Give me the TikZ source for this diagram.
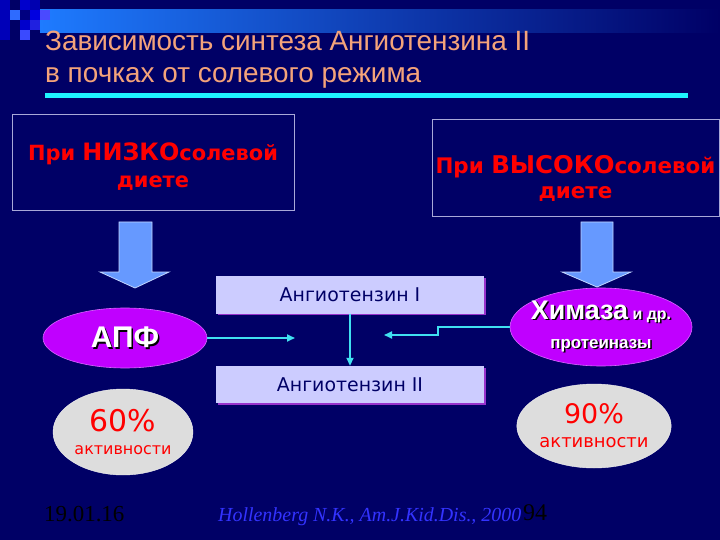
\documentclass[tikz,border=0pt]{standalone}
\usepackage{fontspec}
\setmainfont{Liberation Sans}
\newfontfamily\verdfont{DejaVu Sans}
\newfontfamily\romfont{Liberation Serif}
\usetikzlibrary{positioning, arrows.meta, shapes.geometric, shadows}
\definecolor{slidebg}{HTML}{000066}
\definecolor{bandblue}{HTML}{1E7BFF}
\definecolor{titlesalmon}{HTML}{F4A37A}
\definecolor{rulecyan}{HTML}{1EF4FF}
\definecolor{boxline}{HTML}{A8A8D8}
\definecolor{arrowblue}{HTML}{6699FF}
\definecolor{angfill}{HTML}{CCCCFF}
\definecolor{angshadow}{HTML}{9933CC}
\definecolor{enzviolet}{HTML}{C000FF}
\definecolor{actgray}{HTML}{DDDDDD}
\definecolor{linkcyan}{HTML}{40E0F0}
\definecolor{citeblue}{HTML}{3333FF}
\newcommand{\fsz}[2]{\fontsize{#1}{#2}\selectfont}
\newcommand{\shadowed}[1]{\rlap{\kern1.5bp\raisebox{-1.5bp}{\color{black}#1}}\textcolor{white}{#1}}

\begin{document}
\begin{tikzpicture}[x=1bp, y=-1bp,
  titleline/.style={anchor=base west, inner sep=0pt, text=titlesalmon, font=\fsz{28}{32}},
  dietbox/.style={rectangle, draw=boxline, line width=0.9bp, inner sep=0pt},
  diettext/.style={text=red, align=center, font=\verdfont\bfseries},
  bigarrow/.style={fill=arrowblue, draw=arrowblue!40!white, line width=0.8bp},
  angbox/.style={rectangle, fill=angfill, minimum width=268bp, minimum height=37bp,
    text=slidebg, font=\verdfont\fsz{19}{23},
    drop shadow={shadow xshift=1.5bp, shadow yshift=-1.5bp, fill=angshadow, opacity=1}},
  enzyme/.style={ellipse, fill=enzviolet, draw=enzviolet!60!white, line width=0.6bp,
    inner sep=0pt, align=center},
  activity/.style={ellipse, fill=actgray, draw=white!90!gray, inner sep=0pt,
    align=center, text=red},
  link/.style={draw=linkcyan, line width=1.8bp, -{Triangle[length=8bp, width=7bp]}},
  foot/.style={anchor=base west, inner sep=0pt},
]

% Background
\fill[slidebg] (0,0) rectangle (720,540);
\useasboundingbox (0,0) rectangle (720,540);
\shade[left color=bandblue, right color=slidebg] (40,10) rectangle (720,33);
\foreach \sx/\sy/\sc in {0/0/0000B8, 0/10/0000B8, 0/20/0000B8, 0/30/0000B8,
    10/10/2E6BFF, 20/0/0000CC, 20/10/000080, 30/0/0000B0, 30/10/0000E0,
    40/10/4A4AFF, 20/20/0000CC, 30/20/2020E0, 20/30/3A4AFF}{
  \definecolor{sqcol}{HTML}{\sc}
  \fill[sqcol] (\sx,\sy) rectangle ++(10,10);
}

% Title
\node[titleline] (title1) at (45,51) {Зависимость синтеза Ангиотензина II};
\node[titleline] (title2) at (45,83) {в почках от солевого режима};
\fill[rulecyan] (45,93) rectangle (688,98);

% Diet boxes
\node[dietbox, minimum width=282bp, minimum height=96bp,
  label={[diettext, font=\verdfont\bfseries\fsz{21}{27}, yshift=-5bp]center:{При {\fsz{24}{27}НИЗКО}солевой\\диете}}]
  (lowsalt) at (153,162) {};
\node[dietbox, minimum width=287bp, minimum height=97bp,
  label={[diettext, font=\verdfont\bfseries\fsz{21.5}{25}, yshift=-11bp]center:{При {\fsz{24.5}{25}ВЫСОКО}солевой\\диете}}]
  (highsalt) at (575.5,167.5) {};

% Block arrows
\draw[bigarrow] (119,222) -- (152,222) -- (152,272) -- (169,272) -- (135,288)
  -- (100,272) -- (119,272) -- cycle;
\draw[bigarrow] (581,222) -- (613,222) -- (613,272) -- (631,272) -- (597,287)
  -- (562,272) -- (581,272) -- cycle;

% Angiotensin
\node[angbox] (angone) at (350,295) {Ангиотензин I};
\node[angbox] (angtwo) at (350,384.5) {Ангиотензин II};

% Enzymes
\node[enzyme, minimum width=164bp, minimum height=60bp, font=\bfseries\fsz{30}{30}]
  (ace) at (125,338) {\shadowed{АПФ}};
\node[enzyme, minimum width=182bp, minimum height=78bp, font=\bfseries\fsz{27}{29}]
  (chymase) at (601,327)
  {\makebox[0pt]{\shadowed{Химаза}{\fsz{16}{29}~\shadowed{и др.}}}\\
   \makebox[0pt]{\fsz{17}{29}\shadowed{протеиназы}}};

% Activity
\node[activity, minimum width=140bp, minimum height=86bp, font=\verdfont\fsz{30}{24}]
  (aceact) at (123,432) {60\%\\{\fsz{16}{24}активности}};
\node[activity, minimum width=145bp, minimum height=84bp, font=\verdfont\fsz{27}{24}]
  (chyact) at (594,426) {90\%\\{\fsz{18}{24}активности}};

% Arrows
\coordinate (acetip) at (295,338);
\coordinate (chymtip) at (384,335);
\draw[link] (ace) -- (acetip);
\draw[link] (chymase.west) -- ++(-72,0) |- (chymtip);
\draw[link] (angone) -- (angtwo);

% Footer
\node[foot, font=\romfont\fsz{23}{26}, text=black] (date) at (44,521) {19.01.16};
\node[foot, font=\romfont\itshape\fsz{20}{24}, text=citeblue] (cite) at (218,521)
  {Hollenberg N.K., Am.J.Kid.Dis., 2000};
\node[foot, font=\romfont\fsz{24}{26}, text=black] (pageno) at (523,520) {94};

\end{tikzpicture}
\end{document}
